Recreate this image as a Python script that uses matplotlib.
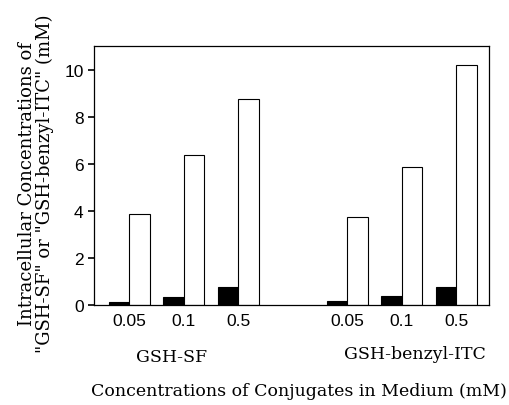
import matplotlib
matplotlib.use("Agg")
import matplotlib.pyplot as plt
import numpy as np

# data
conc_labels = ["0.05", "0.1", "0.5", "0.05", "0.1", "0.5"]
groups = ["GSH-SF", "GSH-benzyl-ITC"]
black_vals = [0.11, 0.33, 0.75, 0.17, 0.38, 0.77]
white_vals = [3.88, 6.35, 8.75, 3.73, 5.86, 10.2]
positions = [0, 1, 2, 4, 5, 6]

fig = plt.figure(figsize=(5.10, 4.06), dpi=100)
ax = fig.add_axes([94/510, 1 - 306/406, 395/510, 259/406])

x = np.array(positions)
w = 0.377
ax.bar(x - w/2, black_vals, width=w, color="black", edgecolor="black", linewidth=0.8)
ax.bar(x + w/2, white_vals, width=w, color="white", edgecolor="black", linewidth=0.8)

ax.set_xlim(-0.643, 6.60)
ax.set_ylim(0, 11)
ax.set_yticks([0, 2, 4, 6, 8, 10])
ax.tick_params(axis="y", direction="out", length=4, width=1.2, labelsize=12.5)
ax.tick_params(axis="x", length=0, labelsize=12.5, pad=6)
ax.set_xticks(x)
ax.set_xticklabels(conc_labels)
for lab in ax.get_xticklabels() + ax.get_yticklabels():
    lab.set_family("Liberation Sans")
for s in ax.spines.values():
    s.set_linewidth(0.9)

serif = "DejaVu Serif"
fs = 12.5
fig.text(172/510, 1 - 358/406, groups[0], family=serif, fontsize=fs, ha="center", va="center")
fig.text(415/510, 1 - 355/406, groups[1], family=serif, fontsize=fs, ha="center", va="center")
fig.text(299/510, 1 - 392/406, "Concentrations of Conjugates in Medium (mM)",
         family=serif, fontsize=fs, ha="center", va="center")
fig.text(36/510, 1 - 184/406,
         "Intracellular Concentrations of\n\"GSH-SF\" or \"GSH-benzyl-ITC\" (mM)",
         family=serif, fontsize=13, ha="center", va="center", rotation=90,
         linespacing=1.0)

fig.savefig("out.png", dpi=100)
